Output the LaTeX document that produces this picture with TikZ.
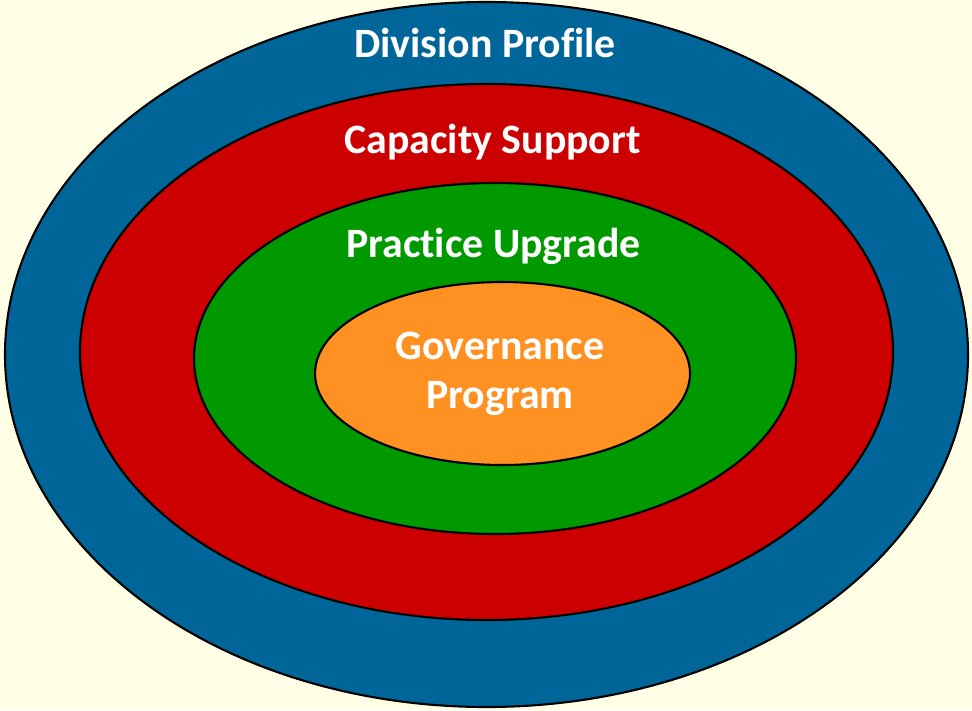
\documentclass[tikz,border=0pt]{standalone}
\usepackage{fontspec}
\setmainfont[Ligatures=NoCommon]{Carlito}
\definecolor{fondo}{RGB}{255,255,230}
\definecolor{azul}{RGB}{0,102,153}
\definecolor{rojo}{RGB}{204,0,0}
\definecolor{verde}{RGB}{0,153,0}
\definecolor{naranja}{RGB}{255,145,34}
\tikzset{
  anillo/.style={draw=black,line width=1.2pt},
  rotulo/.style={text=white,font=\fontsize{23.8}{24}\selectfont\bfseries,anchor=base,inner sep=0pt}
}
\begin{document}
\begin{tikzpicture}[x=0.02cm,y=-0.02cm]
        % Fondo
        \fill[fondo] (0,0) rectangle (972,710);
        \useasboundingbox (0,0) rectangle (972,710);

        % Elipses anidadas
        \filldraw[anillo,fill=azul] (486.5,354.5) ellipse [x radius=481.5,y radius=352.5];
        \filldraw[anillo,fill=rojo] (486.5,352) ellipse [x radius=406.5,y radius=268];
        \filldraw[anillo,fill=verde] (495,358.5) ellipse [x radius=301,y radius=175.5];
        \filldraw[anillo,fill=naranja] (502.5,373.5) ellipse [x radius=187.5,y radius=91.5];

        % Rotulos
        \node[rotulo] (division) at (485,57) {Division Profile};
        \node[rotulo] (capacidad) at (492.5,153) {Capacity Support};
        \node[rotulo] (practica) at (493.5,257) {Practice Upgrade};
        \node[rotulo] (gobierno) at (500,359) {Governance};
        \node[rotulo] (programa) at (500,408) {Program};
    \end{tikzpicture}
\end{document}
